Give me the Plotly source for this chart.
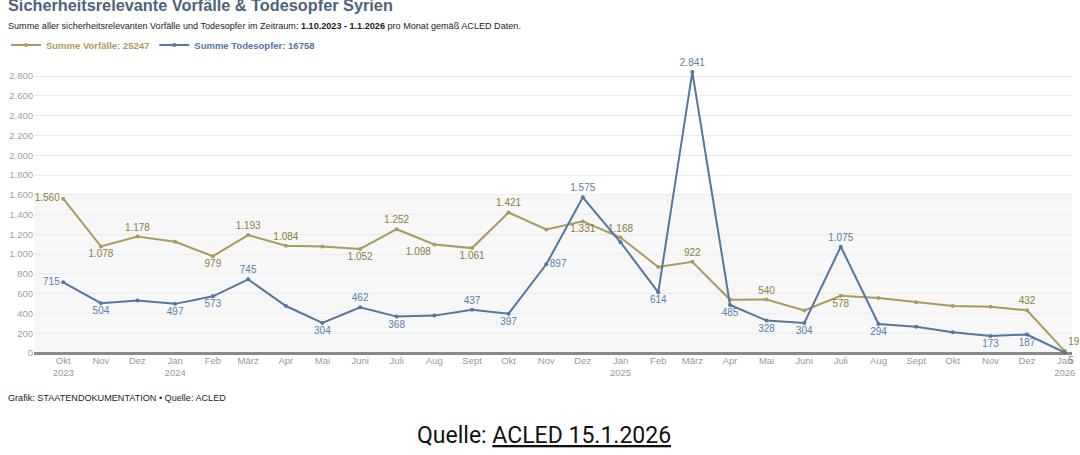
import plotly.graph_objects as go

# Monate (x) und Achsenbeschriftungen
months = ["2023-10-01", "2023-11-01", "2023-12-01", "2024-01-01", "2024-02-01", "2024-03-01",
          "2024-04-01", "2024-05-01", "2024-06-01", "2024-07-01", "2024-08-01", "2024-09-01",
          "2024-10-01", "2024-11-01", "2024-12-01", "2025-01-01", "2025-02-01", "2025-03-01",
          "2025-04-01", "2025-05-01", "2025-06-01", "2025-07-01", "2025-08-01", "2025-09-01",
          "2025-10-01", "2025-11-01", "2025-12-01", "2026-01-01"]
month_labels = ["Okt<br>2023", "Nov", "Dez", "Jan<br>2024", "Feb", "März", "Apr", "Mai", "Juni",
                "Juli", "Aug", "Sept", "Okt", "Nov", "Dez", "Jan<br>2025", "Feb", "März", "Apr",
                "Mai", "Juni", "Juli", "Aug", "Sept", "Okt", "Nov", "Dez", "Jan<br>2026"]

vorfaelle = [1560, 1078, 1178, 1125, 979, 1193, 1084, 1078, 1052, 1252, 1098, 1061, 1421, 1250,
             1331, 1168, 870, 922, 538, 540, 430, 578, 555, 512, 475, 468, 432, 19]
todesopfer = [715, 504, 530, 497, 573, 745, 475, 304, 462, 368, 378, 437, 397, 897,
              1575, 1120, 614, 2841, 485, 328, 304, 1075, 294, 265, 210, 173, 187, 5]

y_ticks = [0, 200, 400, 600, 800, 1000, 1200, 1400, 1600, 1800, 2000, 2200, 2400, 2600, 2800]

# welche Punkte beschriftet sind und wo (None = kein Label)
pos_vorfaelle = ["middle left", "bottom center", "top center", None, "bottom center", "top center",
                 "top center", None, "bottom center", "top center", "bottom left", "bottom center",
                 "top center", None, "bottom center", "top center", None, "top center", None,
                 "top center", None, "bottom center", None, None, None, None, "top center", "top right"]
pos_todesopfer = ["middle left", "bottom center", None, "bottom center", "bottom center", "top center",
                  None, "bottom center", "top center", "bottom center", None, "top center",
                  "bottom center", "middle right", "top center", None, "bottom center", "top center",
                  "bottom center", "bottom center", "bottom center", "top center", "bottom center",
                  None, None, "bottom center", "bottom center", "bottom right"]

GOLD = "#a99b5e"
GOLD_TXT = "#8c7d3e"
BLUE = "#55769e"
BLUE_TXT = "#5a7fa9"


def de(v):
    return f"{v:,}".replace(",", ".")


def labels(vals, pos):
    return [de(v) if p else "" for v, p in zip(vals, pos)]


fig = go.Figure()
for vals, pos, col, tcol, name in [
    (vorfaelle, pos_vorfaelle, GOLD, GOLD_TXT, "Summe Vorfälle"),
    (todesopfer, pos_todesopfer, BLUE, BLUE_TXT, "Summe Todesopfer"),
]:
    fig.add_trace(go.Scatter(
        x=months, y=vals, mode="lines+markers+text",
        name=f"<b><span style='color:{col}'>{name}: {sum(vals)}</span></b>",
        line=dict(color=col, width=2),
        marker=dict(color=col, size=4),
        text=labels(vals, pos),
        textposition=[p or "top center" for p in pos],
        textfont=dict(color=tcol, size=10),
        cliponaxis=False,
        hoverinfo="x+y",
    ))

# grau hinterlegter Bereich bis 1.600
fig.add_shape(type="rect", xref="paper", yref="y", x0=0, x1=1, y0=0, y1=1600,
              fillcolor="#f7f7f7", line_width=0, layer="below")

fig.update_layout(
    width=1080, height=455,
    margin=dict(l=34, r=5, t=70, b=102),
    paper_bgcolor="white", plot_bgcolor="white",
    font=dict(family="Liberation Sans, Arial, sans-serif", size=10, color="#333"),
    separators=",.",
    showlegend=True,
    legend=dict(orientation="h", x=-0.027, xanchor="left", y=1.088, yanchor="middle",
                font=dict(size=9.5), itemwidth=30, bgcolor="rgba(0,0,0,0)"),
    xaxis=dict(
        type="date", range=["2023-09-07", "2026-01-07"],
        tickvals=months, ticktext=month_labels,
        showgrid=False, zeroline=False, ticks="",
        tickfont=dict(size=9.5, color="#999"),
        showline=False,
    ),
    yaxis=dict(
        range=[0, 2862], tickvals=y_ticks, tickformat=",d",
        gridcolor="#ececec", gridwidth=1, zeroline=True, zerolinecolor="#8a8a8a",
        zerolinewidth=2.5, tickfont=dict(size=9.5, color="#a0a0a0"), ticks="",
    ),
    annotations=[
        dict(text="<b>Sicherheitsrelevante Vorfälle & Todesopfer Syrien</b>",
             xref="paper", yref="paper", x=-0.027, y=1.228, xanchor="left", yanchor="middle",
             showarrow=False, font=dict(size=16.3, color="#4d6479")),
        dict(text="Summe aller sicherheitsrelevanten Vorfälle und Todesopfer im Zeitraum: "
                  "<b>1.10.2023 - 1.1.2026</b> pro Monat gemäß ACLED Daten.",
             xref="paper", yref="paper", x=-0.027, y=1.155, xanchor="left", yanchor="middle",
             showarrow=False, font=dict(size=9.1, color="#222")),
        dict(text="Grafik: STAATENDOKUMENTATION • Quelle: ACLED",
             xref="paper", yref="paper", x=-0.027, y=-0.159, xanchor="left", yanchor="middle",
             showarrow=False, font=dict(size=9.1, color="#222")),
        dict(text="Quelle: <u>ACLED 15.1.2026</u>",
             xref="paper", yref="paper", x=0.491, y=-0.293, xanchor="center", yanchor="middle",
             showarrow=False, font=dict(family="Roboto, Liberation Sans, sans-serif",
                                        size=23, color="#111")),
    ],
)

# Seitenrand des Browsers entfernen, damit die Grafik bei (0,0) beginnt
fig.write_html("out.html", config={"displayModeBar": False},
               post_script="document.body.style.margin='0';")
